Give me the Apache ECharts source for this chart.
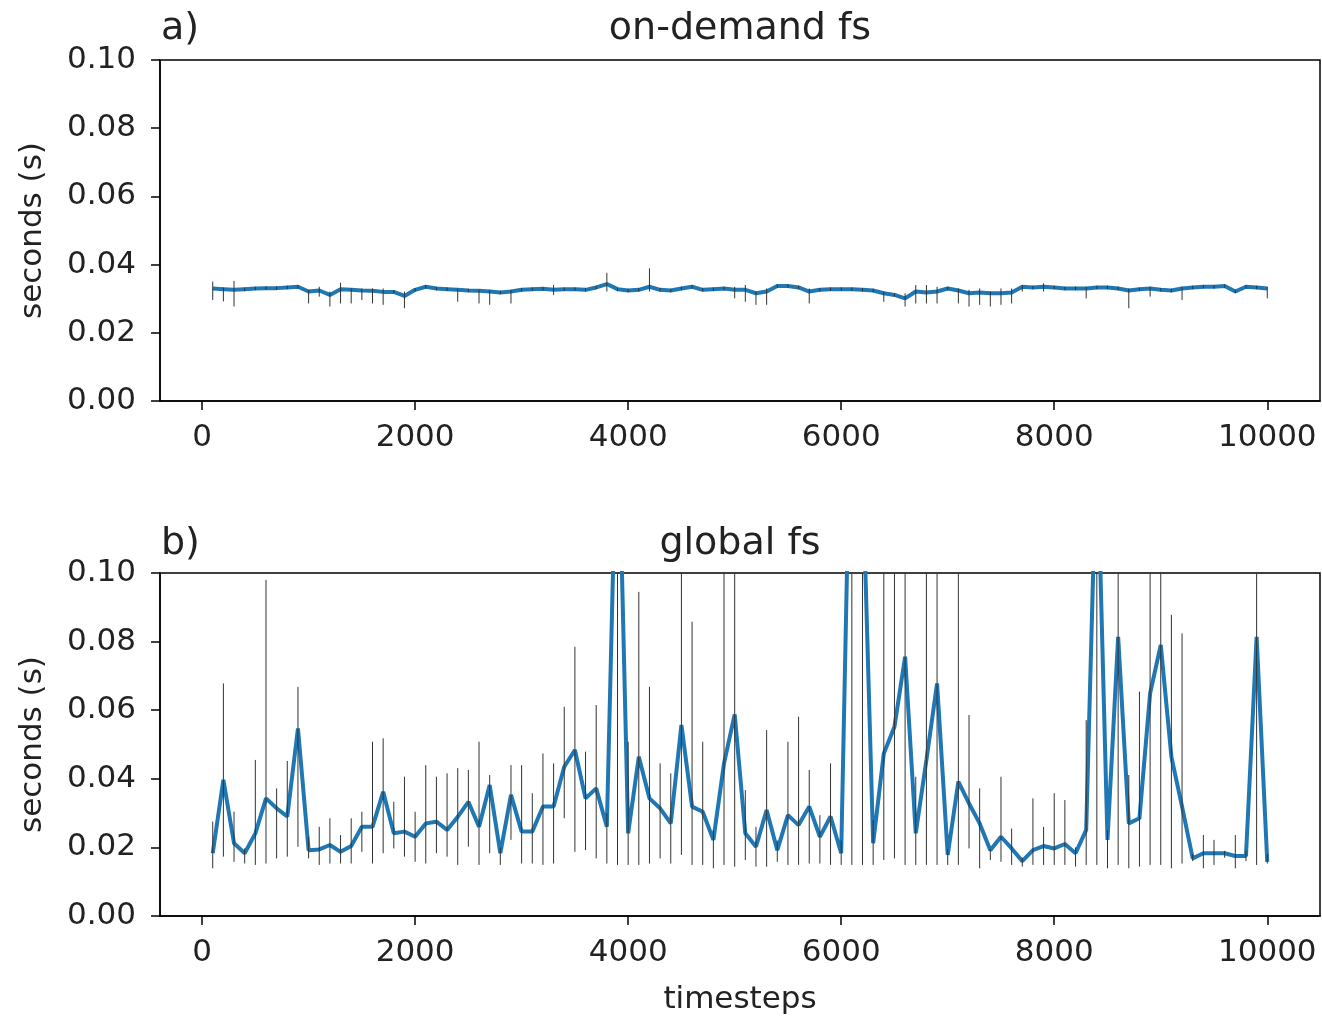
<!DOCTYPE html>
<html>
<head>
<meta charset="utf-8">
<script src="https://cdn.jsdelivr.net/npm/echarts@6/dist/echarts.min.js"></script>
<style>
  html, body { margin: 0; padding: 0; background: #fff; }
  #container { width: 1322px; height: 1016px; }
</style>
</head>
<body>
<div id="container"></div>
<script type="text/javascript">

var timesteps = [
  100, 200, 300, 400, 500, 600, 700, 800, 900, 1000,
  1100, 1200, 1300, 1400, 1500, 1600, 1700, 1800, 1900, 2000,
  2100, 2200, 2300, 2400, 2500, 2600, 2700, 2800, 2900, 3000,
  3100, 3200, 3300, 3400, 3500, 3600, 3700, 3800, 3900, 4000,
  4100, 4200, 4300, 4400, 4500, 4600, 4700, 4800, 4900, 5000,
  5100, 5200, 5300, 5400, 5500, 5600, 5700, 5800, 5900, 6000,
  6100, 6200, 6300, 6400, 6500, 6600, 6700, 6800, 6900, 7000,
  7100, 7200, 7300, 7400, 7500, 7600, 7700, 7800, 7900, 8000,
  8100, 8200, 8300, 8400, 8500, 8600, 8700, 8800, 8900, 9000,
  9100, 9200, 9300, 9400, 9500, 9600, 9700, 9800, 9900, 10000
];

var xTicks = [0, 2000, 4000, 6000, 8000, 10000];

// a) on-demand fs : mean, min, max
var onDemandMean = [
  0.0330,0.0328,0.0326,0.0328,0.0330,0.0331,0.0331,0.0333,0.0335,0.0321,
  0.0324,0.0311,0.0328,0.0326,0.0324,0.0323,0.0320,0.0320,0.0308,0.0326,
  0.0335,0.0330,0.0328,0.0326,0.0324,0.0323,0.0321,0.0318,0.0321,0.0326,
  0.0328,0.0329,0.0326,0.0328,0.0328,0.0326,0.0333,0.0343,0.0328,0.0324,
  0.0326,0.0335,0.0326,0.0324,0.0330,0.0335,0.0326,0.0328,0.0330,0.0326,
  0.0326,0.0316,0.0321,0.0337,0.0337,0.0333,0.0321,0.0326,0.0328,0.0328,
  0.0328,0.0326,0.0324,0.0316,0.0311,0.0301,0.0321,0.0318,0.0321,0.0330,
  0.0324,0.0316,0.0318,0.0316,0.0316,0.0318,0.0335,0.0333,0.0335,0.0333,
  0.0330,0.0330,0.0330,0.0333,0.0333,0.0330,0.0324,0.0328,0.0330,0.0326,
  0.0324,0.0330,0.0333,0.0335,0.0335,0.0337,0.0321,0.0335,0.0333,0.0330
];
var onDemandLow = [
  0.0296,0.0292,0.0277,0.0322,0.0325,0.0326,0.0326,0.0328,0.0330,0.0286,
  0.0306,0.0277,0.0286,0.0286,0.0296,0.0286,0.0282,0.0315,0.0272,0.0321,
  0.0330,0.0325,0.0323,0.0291,0.0319,0.0286,0.0282,0.0313,0.0286,0.0321,
  0.0323,0.0324,0.0311,0.0323,0.0323,0.0321,0.0328,0.0321,0.0323,0.0319,
  0.0321,0.0321,0.0321,0.0319,0.0325,0.0330,0.0321,0.0323,0.0325,0.0301,
  0.0291,0.0282,0.0282,0.0332,0.0332,0.0328,0.0286,0.0321,0.0323,0.0323,
  0.0323,0.0321,0.0319,0.0291,0.0306,0.0277,0.0286,0.0286,0.0286,0.0325,
  0.0286,0.0277,0.0282,0.0277,0.0282,0.0286,0.0321,0.0328,0.0321,0.0328,
  0.0325,0.0325,0.0301,0.0328,0.0328,0.0325,0.0272,0.0323,0.0306,0.0321,
  0.0319,0.0296,0.0328,0.0330,0.0330,0.0332,0.0316,0.0330,0.0328,0.0301
];
var onDemandHigh = [
  0.0350,0.0333,0.0352,0.0333,0.0335,0.0336,0.0336,0.0338,0.0340,0.0326,
  0.0335,0.0321,0.0347,0.0330,0.0330,0.0330,0.0330,0.0325,0.0321,0.0331,
  0.0340,0.0335,0.0333,0.0330,0.0329,0.0326,0.0326,0.0323,0.0326,0.0331,
  0.0333,0.0334,0.0340,0.0333,0.0333,0.0331,0.0338,0.0376,0.0333,0.0329,
  0.0331,0.0389,0.0331,0.0329,0.0335,0.0340,0.0331,0.0333,0.0335,0.0335,
  0.0340,0.0321,0.0330,0.0342,0.0342,0.0338,0.0330,0.0331,0.0333,0.0333,
  0.0333,0.0331,0.0329,0.0321,0.0316,0.0316,0.0340,0.0340,0.0335,0.0335,
  0.0330,0.0326,0.0330,0.0321,0.0330,0.0330,0.0340,0.0338,0.0345,0.0338,
  0.0335,0.0335,0.0335,0.0338,0.0338,0.0335,0.0330,0.0333,0.0335,0.0331,
  0.0329,0.0335,0.0338,0.0340,0.0340,0.0342,0.0326,0.0340,0.0338,0.0335
];

// b) global fs : mean, min, max
var globalMean = [
  0.0183,0.0397,0.0212,0.0183,0.0241,0.0343,0.0314,0.0290,0.0547,0.0192,
  0.0194,0.0207,0.0187,0.0204,0.0260,0.0260,0.0362,0.0241,0.0246,0.0231,
  0.0270,0.0275,0.0251,0.0289,0.0333,0.0260,0.0382,0.0183,0.0353,0.0246,
  0.0246,0.0319,0.0319,0.0435,0.0484,0.0343,0.0372,0.0260,0.1550,0.0241,
  0.0464,0.0343,0.0314,0.0270,0.0557,0.0319,0.0304,0.0222,0.0445,0.0588,
  0.0241,0.0202,0.0309,0.0192,0.0294,0.0265,0.0319,0.0231,0.0290,0.0183,
  0.1700,0.1300,0.0212,0.0474,0.0552,0.0756,0.0241,0.0455,0.0678,0.0178,
  0.0392,0.0328,0.0270,0.0192,0.0231,0.0197,0.0160,0.0192,0.0204,0.0197,
  0.0210,0.0183,0.0251,0.1400,0.0222,0.0814,0.0270,0.0285,0.0649,0.0790,
  0.0464,0.0319,0.0168,0.0183,0.0183,0.0183,0.0175,0.0175,0.0814,0.0158
];
var globalLow = [
  0.0139,0.0173,0.0158,0.0153,0.0149,0.0153,0.0168,0.0173,0.0202,0.0168,
  0.0149,0.0153,0.0153,0.0153,0.0187,0.0153,0.0183,0.0197,0.0173,0.0158,
  0.0153,0.0183,0.0173,0.0149,0.0202,0.0149,0.0183,0.0149,0.0222,0.0153,
  0.0153,0.0149,0.0153,0.0285,0.0187,0.0192,0.0168,0.0153,0.0149,0.0149,
  0.0149,0.0153,0.0168,0.0153,0.0178,0.0149,0.0149,0.0139,0.0149,0.0144,
  0.0163,0.0144,0.0144,0.0158,0.0149,0.0149,0.0153,0.0153,0.0149,0.0149,
  0.0149,0.0149,0.0149,0.0163,0.0168,0.0149,0.0149,0.0149,0.0149,0.0149,
  0.0149,0.0197,0.0139,0.0163,0.0158,0.0149,0.0144,0.0149,0.0149,0.0149,
  0.0149,0.0144,0.0149,0.0149,0.0139,0.0149,0.0139,0.0144,0.0149,0.0149,
  0.0139,0.0153,0.0160,0.0139,0.0149,0.0170,0.0139,0.0160,0.0149,0.0153
];
var globalHigh = [
  0.0275,0.0678,0.0304,0.0197,0.0455,0.0980,0.0372,0.0452,0.0668,0.0231,
  0.0260,0.0285,0.0236,0.0285,0.0304,0.0508,0.0518,0.0333,0.0406,0.0304,
  0.0440,0.0406,0.0416,0.0431,0.0426,0.0508,0.0411,0.0200,0.0440,0.0440,
  0.0358,0.0474,0.0445,0.0610,0.0785,0.0479,0.0615,0.0300,0.2000,0.0508,
  0.0945,0.0668,0.0445,0.0416,0.2000,0.0858,0.0508,0.0250,0.2000,0.2000,
  0.0367,0.0260,0.0542,0.0220,0.0508,0.0581,0.0426,0.0294,0.0445,0.0220,
  0.2000,0.2000,0.0280,0.2000,0.2000,0.2000,0.0406,0.2000,0.2000,0.0195,
  0.2000,0.0586,0.0372,0.0195,0.0406,0.0255,0.0170,0.0343,0.0260,0.0358,
  0.0338,0.0200,0.0571,0.2000,0.0250,0.2000,0.0411,0.0654,0.2000,0.2000,
  0.0878,0.0824,0.0180,0.0236,0.0222,0.0190,0.0236,0.0190,0.2000,0.0180
];

var dom = document.getElementById("container");
var myChart = echarts.init(dom, null, {renderer: 'canvas'});
var FONT = 'DejaVu Sans';

function pairs(ys) {
  var out = [];
  for (var i = 0; i < timesteps.length; i++) out.push([timesteps[i], ys[i]]);
  return out;
}
function triples(lo, hi) {
  var out = [];
  for (var i = 0; i < timesteps.length; i++) out.push([timesteps[i], lo[i], hi[i]]);
  return out;
}
function renderBar(params, api) {
  var p1 = api.coord([api.value(0), api.value(1)]);
  var p2 = api.coord([api.value(0), api.value(2)]);
  return {
    type: 'line',
    shape: {x1: p1[0], y1: p1[1], x2: p2[0], y2: p2[1]},
    style: {stroke: '#333', lineWidth: 1}
  };
}

function xAxisFor(idx, withName) {
  var ax = {
    type: 'value', gridIndex: idx, min: -395, max: 10495,
    axisLine: {show: true, onZero: false, lineStyle: {color: '#000', width: 1.5}},
    axisTick: {show: true, length: 9, customValues: xTicks, lineStyle: {color: '#000', width: 1.5}},
    axisLabel: {customValues: xTicks, fontFamily: FONT, fontSize: 31, color: '#222', margin: 21,
      formatter: function (v) { return String(v); }},
    splitLine: {show: false}
  };
  if (withName) {
    ax.name = 'timesteps';
    ax.nameLocation = 'middle';
    ax.nameGap = 68;
    ax.nameTextStyle = {fontFamily: FONT, fontSize: 31, color: '#222'};
  }
  return ax;
}
function yAxisFor(idx) {
  return {
    type: 'value', gridIndex: idx, min: 0, max: 0.1, interval: 0.02,
    name: 'seconds (s)', nameLocation: 'middle', nameGap: 112, nameRotate: 90,
    nameTextStyle: {fontFamily: FONT, fontSize: 31, color: '#222'},
    axisLine: {show: true, onZero: false, lineStyle: {color: '#000', width: 1.5}},
    axisTick: {show: true, length: 9, lineStyle: {color: '#000', width: 1.5}},
    axisLabel: {fontFamily: FONT, fontSize: 31, color: '#222', margin: 24,
      formatter: function (v) { return v.toFixed(2); }},
    splitLine: {show: false}
  };
}

var titleStyle = {fontFamily: FONT, fontSize: 38, fontWeight: 'normal', color: '#222'};

option = {
  animation: false,
  backgroundColor: '#fff',
  title: [
    {text: 'on-demand fs', left: 735, top: 5, textAlign: 'center', textStyle: titleStyle},
    {text: 'a)', left: 156, top: 5, textStyle: titleStyle},
    {text: 'global fs', left: 735, top: 520, textAlign: 'center', textStyle: titleStyle},
    {text: 'b)', left: 156, top: 520, textStyle: titleStyle}
  ],
  grid: [
    {left: 160, top: 60, width: 1160, height: 341, show: true, borderColor: '#000', borderWidth: 1.5, outerBoundsMode: 'none'},
    {left: 160, top: 573, width: 1160, height: 343, show: true, borderColor: '#000', borderWidth: 1.5, outerBoundsMode: 'none'}
  ],
  xAxis: [xAxisFor(0, false), xAxisFor(1, true)],
  yAxis: [yAxisFor(0), yAxisFor(1)],
  series: [
    {
      name: 'on-demand fs', type: 'line', xAxisIndex: 0, yAxisIndex: 0,
      data: pairs(onDemandMean), showSymbol: false, clip: true,
      lineStyle: {color: '#1f77b4', width: 4}, itemStyle: {color: '#1f77b4'}, z: 2
    },
    {
      name: 'on-demand fs range', type: 'custom', xAxisIndex: 0, yAxisIndex: 0,
      data: triples(onDemandLow, onDemandHigh), renderItem: renderBar, clip: true,
      encode: {x: 0, y: [1, 2]}, z: 3
    },
    {
      name: 'global fs', type: 'line', xAxisIndex: 1, yAxisIndex: 1,
      data: pairs(globalMean), showSymbol: false, clip: true,
      lineStyle: {color: '#1f77b4', width: 4}, itemStyle: {color: '#1f77b4'}, z: 2
    },
    {
      name: 'global fs range', type: 'custom', xAxisIndex: 1, yAxisIndex: 1,
      data: triples(globalLow, globalHigh), renderItem: renderBar, clip: true,
      encode: {x: 0, y: [1, 2]}, z: 3
    }
  ]
};

if (option && typeof option === "object") {
  myChart.setOption(option, true);
}
</script>
</body>
</html>
